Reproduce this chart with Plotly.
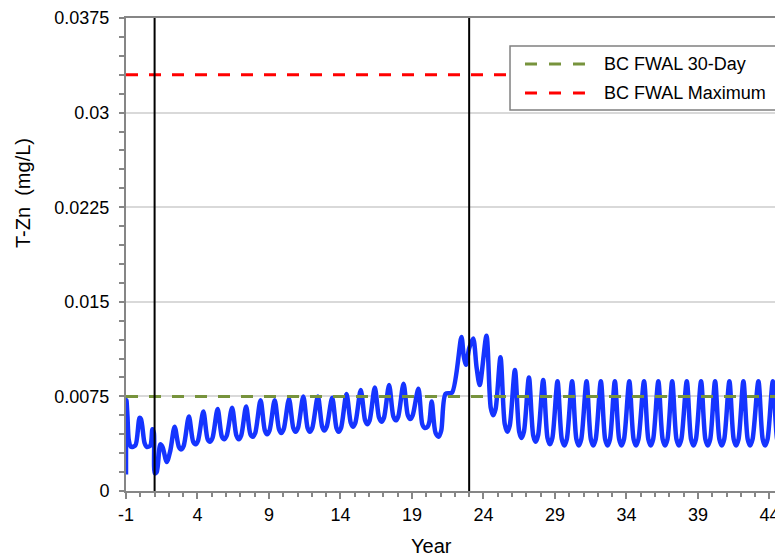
import plotly.graph_objects as go

# ---------------- data ----------------
# Baseline / construction period
year_base = [-1.00, -0.97, -0.90, -0.80, -0.65, -0.35, -0.05, 0.05, 0.30, 0.45,
             0.70, 0.85, 0.95, 1.02, 1.15, 1.40, 1.55, 1.85, 2.10]
tzn_base = [0.0013, 0.0072, 0.0060, 0.0040, 0.0035, 0.0036, 0.0058, 0.0057, 0.0038, 0.0035,
            0.0036, 0.0049, 0.0046, 0.0014, 0.0015, 0.0037, 0.0035, 0.0023, 0.0032]

# Operations period
year_ops = [2.40, 2.70, 2.87, 3.04,
            3.40, 3.70, 3.87, 4.04,
            4.41, 4.71, 4.88, 5.05,
            5.41, 5.71, 5.88, 6.05,
            6.42, 6.72, 6.89, 7.06,
            7.40, 7.70, 7.87, 8.04,
            8.41, 8.71, 8.87, 9.04,
            9.40, 9.70, 9.86, 10.03,
            10.40, 10.70, 10.86, 11.03,
            11.40, 11.70, 11.86, 12.03,
            12.42, 12.72, 12.87, 13.04,
            13.42, 13.72, 13.87, 14.04,
            14.42, 14.72, 14.87, 15.04,
            15.42, 15.72, 15.87, 16.04,
            16.40, 16.70, 16.87, 17.04,
            17.40, 17.70, 17.87, 18.04,
            18.41, 18.71, 18.88, 19.05,
            19.45, 19.72, 19.88, 20.10, 20.22,
            20.38, 20.65, 20.87, 21.05, 21.35, 21.80]
tzn_ops = [0.0051, 0.0035, 0.0033, 0.0036,
           0.0059, 0.0039, 0.0037, 0.0040,
           0.0063, 0.0041, 0.0039, 0.0042,
           0.0065, 0.0043, 0.0041, 0.0044,
           0.0066, 0.0044, 0.0041, 0.0044,
           0.0067, 0.0045, 0.0043, 0.0046,
           0.0072, 0.0048, 0.0045, 0.0048,
           0.0072, 0.0049, 0.0046, 0.0049,
           0.0073, 0.0050, 0.0047, 0.0050,
           0.0075, 0.0050, 0.0047, 0.0050,
           0.0075, 0.0051, 0.0048, 0.0051,
           0.0074, 0.0050, 0.0047, 0.0050,
           0.0077, 0.0054, 0.0051, 0.0054,
           0.0080, 0.0056, 0.0053, 0.0056,
           0.0082, 0.0058, 0.0055, 0.0058,
           0.0084, 0.0059, 0.0056, 0.0059,
           0.0085, 0.0060, 0.0057, 0.0060,
           0.0081, 0.0053, 0.0050, 0.0051, 0.0055,
           0.0071, 0.0046, 0.0043, 0.0048, 0.0077, 0.0078]

# Closure / post-closure period
year_post = [22.46, 22.62, 22.78, 23.00, 23.28, 23.52, 23.74,
             24.21, 24.51, 24.68, 24.85,
             25.19, 25.49, 25.67, 25.84,
             26.20, 26.50, 26.66, 26.83,
             27.18, 27.48, 27.65, 27.82,
             28.18, 28.48, 28.65, 28.82,
             29.18, 29.48, 29.66, 29.83,
             30.20, 30.50, 30.67, 30.84,
             31.21, 31.51, 31.68, 31.85,
             32.21, 32.51, 32.68, 32.85,
             33.19, 33.49, 33.66, 33.83,
             34.20, 34.50, 34.67, 34.84,
             35.23, 35.53, 35.70, 35.87,
             36.23, 36.53, 36.70, 36.87,
             37.20, 37.50, 37.67, 37.84,
             38.22, 38.52, 38.69, 38.86,
             39.22, 39.52, 39.69, 39.86,
             40.20, 40.50, 40.67, 40.84,
             41.20, 41.50, 41.67, 41.84,
             42.18, 42.48, 42.65, 42.82,
             43.23, 43.53, 43.70, 43.87,
             44.24, 44.54, 44.71, 44.88]
tzn_post = [0.0122, 0.0107, 0.0100, 0.0113, 0.0121, 0.0098, 0.0084,
            0.0123, 0.0066, 0.0060, 0.0065,
            0.0106, 0.0053, 0.0047, 0.0052,
            0.0096, 0.0047, 0.0042, 0.0047,
            0.0090, 0.0044, 0.0039, 0.0044,
            0.0088, 0.0042, 0.0037, 0.0042,
            0.0087, 0.0041, 0.0036, 0.0041,
            0.0087, 0.0041, 0.0036, 0.0041,
            0.0087, 0.0041, 0.0036, 0.0041,
            0.0087, 0.0041, 0.0036, 0.0041,
            0.0087, 0.0041, 0.0036, 0.0041,
            0.0087, 0.0041, 0.0036, 0.0041,
            0.0087, 0.0041, 0.0036, 0.0041,
            0.0087, 0.0041, 0.0036, 0.0041,
            0.0087, 0.0041, 0.0036, 0.0041,
            0.0087, 0.0041, 0.0036, 0.0041,
            0.0087, 0.0041, 0.0036, 0.0041,
            0.0087, 0.0041, 0.0036, 0.0041,
            0.0087, 0.0041, 0.0036, 0.0041,
            0.0087, 0.0041, 0.0036, 0.0041,
            0.0087, 0.0041, 0.0036, 0.0041,
            0.0087, 0.0041, 0.0036, 0.0041]

# Guidelines (mg/L)
guideline_names = ["BC FWAL 30-Day", "BC FWAL Maximum"]
guideline_values = [0.0075, 0.033]
guideline_colors = ["#77933C", "#FF0000"]
guideline_years = [-1, 46]

# Event markers (vertical lines)
event_years = [1, 23]

# Axis ticks and titles
x_tickvals = [-1, 4, 9, 14, 19, 24, 29, 34, 39, 44]
x_ticktext = ["-1", "4", "9", "14", "19", "24", "29", "34", "39", "44"]
y_tickvals = [0, 0.0075, 0.015, 0.0225, 0.03, 0.0375]
y_ticktext = ["0", "0.0075", "0.015", "0.0225", "0.03", "0.0375"]
x_title = "Year"
y_title = "T-Zn\u00a0 (mg/L)"

years = year_base + year_ops + year_post
tzn = tzn_base + tzn_ops + tzn_post

# ---------------- figure ----------------
FONT = "Liberation Sans, Arial, sans-serif"
AXIS_GRAY = "#868686"
DASH = "12px,11px"

fig = go.Figure()
fig.add_trace(go.Scatter(
    x=years, y=tzn, mode="lines", name="T-Zn",
    line=dict(color="#1534FF", width=4.5, shape="spline", smoothing=0.8),
    showlegend=False, hoverinfo="x+y"))

for name, val, col in zip(guideline_names, guideline_values, guideline_colors):
    fig.add_trace(go.Scatter(
        x=guideline_years, y=[val, val], mode="lines", name=name,
        line=dict(color=col, width=3, dash=DASH), showlegend=False))

for yr in event_years:
    fig.add_vline(x=yr, line=dict(color="black", width=2), layer="above")

# Custom legend box (keeps long dashed samples as in the reference)
lx0, lx1, ly0, ly1 = 0.5917, 1.10, 0.8055, 0.9408
fig.add_shape(type="rect", xref="paper", yref="paper", x0=lx0, x1=lx1, y0=ly0, y1=ly1,
              line=dict(color="#808080", width=1.5), fillcolor="white", layer="above")
row_y = [0.9027, 0.8414]
for name, col, ry in zip(guideline_names, guideline_colors, row_y):
    fig.add_shape(type="line", xref="paper", yref="paper", x0=0.6148, x1=0.7072, y0=ry, y1=ry,
                  line=dict(color=col, width=3, dash="12px,12px"), layer="above")
    fig.add_annotation(xref="paper", yref="paper", x=0.7334, y=ry, text=name,
                       showarrow=False, xanchor="left", yanchor="middle",
                       font=dict(family=FONT, size=18, color="black"))

# Axis titles (placed as in the reference, which is not centred on the plot area)
fig.add_annotation(xref="paper", yref="paper", x=-0.1587, y=0.630, text=y_title,
                   textangle=-90, showarrow=False, xanchor="center", yanchor="middle",
                   font=dict(family=FONT, size=20, color="black"))
fig.add_annotation(xref="paper", yref="paper", x=0.470, y=-0.1163, text=x_title,
                   showarrow=False, xanchor="center", yanchor="middle",
                   font=dict(family=FONT, size=20, color="black"))

fig.update_layout(
    width=775, height=556,
    margin=dict(l=126, r=0, t=18, b=65, autoexpand=False),
    paper_bgcolor="white", plot_bgcolor="white",
    font=dict(family=FONT, size=18, color="black"),
    showlegend=False,
)
fig.update_xaxes(
    range=[-1, 44.39], tickmode="array", tickvals=x_tickvals, ticktext=x_ticktext,
    ticks="outside", ticklen=6, tickwidth=2, tickcolor=AXIS_GRAY,
    showline=True, linecolor=AXIS_GRAY, linewidth=2, mirror=True,
    showgrid=False, zeroline=False, ticklabelstandoff=0, ticklabeloverflow="allow",
    minor=dict(tickmode="linear", tick0=-1, dtick=1, ticks="outside", ticklen=4,
               tickwidth=2, tickcolor=AXIS_GRAY, showgrid=False),
)
fig.update_yaxes(
    range=[0, 0.0375], tickmode="array", tickvals=y_tickvals, ticktext=y_ticktext,
    ticks="outside", ticklen=5, tickwidth=2, tickcolor=AXIS_GRAY,
    showline=True, linecolor=AXIS_GRAY, linewidth=2,
    showgrid=True, gridcolor="#D9D9D9", gridwidth=1.5, zeroline=False,
    ticklabelstandoff=6,
    minor=dict(tickmode="linear", tick0=0, dtick=0.0015, ticks="outside", ticklen=5,
               tickwidth=2, tickcolor=AXIS_GRAY, showgrid=False),
)

fig.write_html("out.html")
